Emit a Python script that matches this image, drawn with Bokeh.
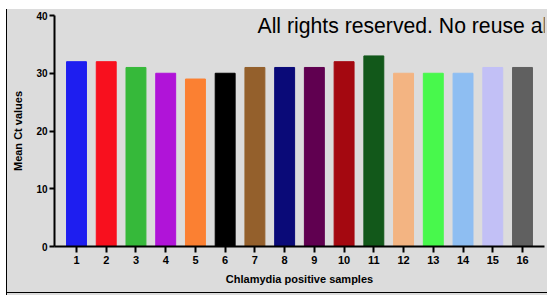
from bokeh.plotting import figure
from bokeh.models import ColumnDataSource, Label, FixedTicker, Range1d
from bokeh.embed import file_html
from bokeh.resources import INLINE

# ---- data ----
sample_positions = [1, 2, 3, 4, 5, 6, 7, 8, 9, 10, 11, 12, 13, 14, 15, 16]
sample_labels = ["1", "2", "3", "4", "5", "6", "7", "8", "9", "10", "11", "12", "13", "14", "15", "16"]
mean_ct = [32, 32, 31, 30, 29, 30, 31, 31, 31, 32, 33, 30, 30, 30, 31, 31]
bar_colors = ["#1e1ef0", "#f8101e", "#36b93a", "#b014d8", "#fb8032", "#000000",
              "#94602c", "#0a0a78", "#600050", "#a40810", "#12581a", "#f3b482",
              "#48f84c", "#8ebef2", "#c2c0f6", "#606060"]
y_ticks = [0, 10, 20, 30, 40]

GRAY = "#dcdcdc"
FONT = "Liberation Sans"

src = ColumnDataSource(dict(x=sample_positions, top=mean_ct, color=bar_colors))

p = figure(width=547, height=295, output_backend="svg", toolbar_location=None,
           title=None,
           x_range=Range1d(0.26, 16.74), y_range=Range1d(0, 40),
           min_border_left=54, min_border_right=3, min_border_top=15, min_border_bottom=49,
           background_fill_color=None, border_fill_color=None, outline_line_color=None)
# page look behind the transparent canvas: white strip on top and left,
# black edge on the left and bottom of the grey panel
p.styles = {
    "position": "absolute", "left": "0px", "top": "0px",
    "background-color": GRAY,
    "background-image": ("linear-gradient(180deg, #ffffff 0px, #ffffff 9px, rgba(255,255,255,0) 9px, rgba(255,255,255,0) 100%), "
                         "linear-gradient(90deg, #ffffff 0px, #ffffff 6px, #000000 6px, #000000 7.5px, rgba(0,0,0,0) 7.5px, rgba(0,0,0,0) 100%), "
                         "linear-gradient(180deg, rgba(0,0,0,0) 0px, rgba(0,0,0,0) 292px, #000000 292px, #000000 293.5px, rgba(0,0,0,0) 293.5px, rgba(0,0,0,0) 100%)"),
}

p.vbar(x="x", top="top", width=0.67, fill_color="color", line_color="color",
       line_width=1, source=src)

p.grid.visible = False

# x axis
xa = p.xaxis[0]
xa.ticker = FixedTicker(ticks=sample_positions)
xa.major_label_overrides = {pos: lab for pos, lab in zip(sample_positions, sample_labels)}
xa.minor_tick_line_color = None
xa.major_tick_in = 0
xa.major_tick_out = 6
xa.major_tick_line_width = 2
xa.major_tick_line_color = "black"
xa.axis_line_width = 2
xa.axis_line_color = "black"
xa.axis_label = "Chlamydia positive samples"
xa.axis_label_text_font = FONT
xa.axis_label_text_font_style = "bold"
xa.axis_label_text_font_size = "11px"
xa.axis_label_text_color = "black"
xa.axis_label_standoff = 6
xa.major_label_text_font = FONT
xa.major_label_text_font_style = "bold"
xa.major_label_text_font_size = "11px"
xa.major_label_text_color = "black"
xa.major_label_standoff = 3

# y axis
ya = p.yaxis[0]
ya.ticker = FixedTicker(ticks=y_ticks)
ya.minor_tick_line_color = None
ya.major_tick_in = 0
ya.major_tick_out = 5
ya.major_tick_line_width = 2
ya.major_tick_line_color = "black"
ya.axis_line_width = 2
ya.axis_line_color = "black"
ya.axis_label = "Mean Ct values"
ya.axis_label_text_font = FONT
ya.axis_label_text_font_style = "bold"
ya.axis_label_text_font_size = "11px"
ya.axis_label_text_color = "black"
ya.axis_label_standoff = 9
ya.major_label_text_font = FONT
ya.major_label_text_font_style = "bold"
ya.major_label_text_font_size = "10px"
ya.major_label_text_color = "black"
ya.major_label_standoff = 2

# header lines of the page
p.add_layout(Label(x=7.5, y=-1, x_units="canvas", y_units="canvas",
                   text="not certified by peer review) is the author/funder, who has",
                   text_font=FONT, text_font_size="21.3px", text_color="black",
                   text_baseline="alphabetic", text_align="left"))
p.add_layout(Label(x=257, y=25, x_units="canvas", y_units="canvas",
                   text="All rights reserved. No reuse al",
                   text_font=FONT, text_font_size="21.2px", text_color="black",
                   text_baseline="alphabetic", text_align="left"))

open("out.html", "w").write(file_html(p, INLINE))
